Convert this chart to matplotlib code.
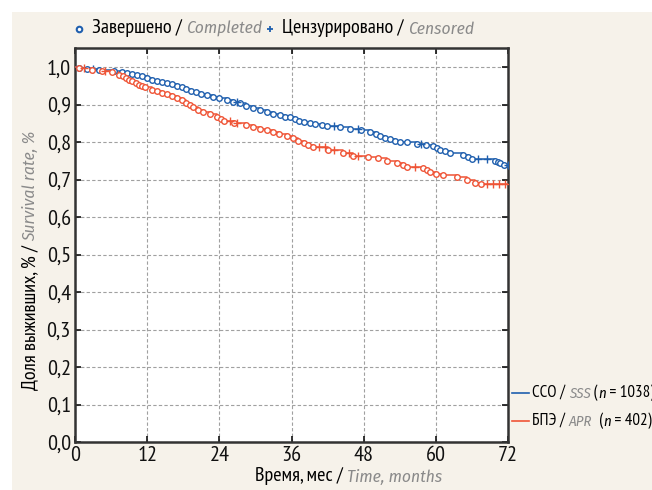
import numpy as np
import matplotlib
matplotlib.use('Agg')
import matplotlib.pyplot as plt
from matplotlib.patches import Rectangle
from matplotlib.lines import Line2D
from matplotlib import font_manager

installed = {f.name for f in font_manager.fontManager.ttflist}
upright = next(n for n in ['PT Sans Narrow', 'Fira Sans Condensed', 'DejaVu Sans'] if n in installed)
slanted = next(n for n in ['Fira Sans Condensed', 'DejaVu Sans'] if n in installed)
plt.rcParams['font.family'] = [upright, 'DejaVu Sans']

# Kaplan-Meier curves: event times (months) and survival after each event
sss_times = [0.6, 2.0, 4.0, 6.5, 7.8, 8.6, 9.5, 10.3, 11.1, 12.0, 12.8, 13.6, 14.5, 15.3,
             16.1, 17.0, 17.8, 18.5, 19.3, 20.2, 21.0, 22.0, 23.0, 24.0, 25.2, 26.3, 27.4,
             28.5, 29.6, 30.7, 31.9, 33.0, 34.1, 35.0, 35.7, 36.5, 37.3, 38.0, 39.0, 39.9,
             41.0, 41.9, 44.1, 45.7, 47.5, 49.0, 50.0, 50.7, 51.5, 52.4, 53.2, 54.0, 55.2,
             56.8, 58.3, 59.6, 60.2, 60.7, 61.5, 62.4, 64.6, 65.3, 66.0, 69.8, 70.3, 70.7, 71.3]
sss_surv = [0.997, 0.995, 0.993, 0.990, 0.987, 0.984, 0.981, 0.978, 0.975, 0.970, 0.966, 0.963,
            0.960, 0.957, 0.954, 0.950, 0.946, 0.941, 0.937, 0.933, 0.929, 0.925, 0.921, 0.917,
            0.912, 0.907, 0.903, 0.897, 0.891, 0.885, 0.879, 0.875, 0.872, 0.868, 0.866, 0.861,
            0.857, 0.853, 0.850, 0.848, 0.845, 0.843, 0.840, 0.836, 0.832, 0.827, 0.821, 0.816,
            0.811, 0.807, 0.804, 0.801, 0.799, 0.795, 0.792, 0.789, 0.784, 0.779, 0.775, 0.770,
            0.765, 0.760, 0.756, 0.750, 0.746, 0.743, 0.740]
sss_censored = [3.0, 27.0, 43.0, 47.0, 57.5, 67.0, 68.5, 72.0]

apr_times = [0.6, 2.8, 4.5, 6.2, 7.3, 7.9, 8.4, 9.0, 9.5, 10.1, 10.6, 11.2, 11.7, 12.8, 13.6,
             14.5, 15.3, 16.1, 17.0, 17.8, 18.5, 19.1, 19.7, 20.5, 21.3, 22.4, 23.6, 24.2, 24.7,
             26.5, 28.5, 29.6, 30.8, 32.0, 33.0, 34.0, 35.2, 36.3, 37.1, 38.0, 38.8, 39.6, 42.0,
             44.6, 46.3, 48.8, 50.4, 51.8, 53.5, 54.5, 55.2, 57.9, 58.5, 59.0, 60.0, 61.2, 63.5,
             65.1, 66.5, 67.5]
apr_surv = [0.997, 0.993, 0.989, 0.986, 0.980, 0.975, 0.971, 0.966, 0.962, 0.957, 0.953, 0.949,
            0.946, 0.940, 0.936, 0.932, 0.927, 0.922, 0.917, 0.913, 0.905, 0.899, 0.894, 0.886,
            0.879, 0.874, 0.868, 0.862, 0.856, 0.851, 0.845, 0.840, 0.836, 0.831, 0.826, 0.822,
            0.817, 0.810, 0.804, 0.798, 0.792, 0.786, 0.778, 0.770, 0.763, 0.759, 0.757, 0.750,
            0.743, 0.739, 0.734, 0.731, 0.726, 0.721, 0.716, 0.712, 0.707, 0.699, 0.692, 0.689]
apr_censored = [1.5, 5.0, 25.8, 27.0, 40.5, 41.5, 43.0, 45.5, 47.0, 56.5, 68.5, 69.5, 70.5, 71.5]

x_ticks = [0, 12, 24, 36, 48, 60, 72]
y_ticks = [0.0, 0.1, 0.2, 0.3, 0.4, 0.5, 0.6, 0.7, 0.8, 0.9, 1.0]
y_labels = ['0,0', '0,1', '0,2', '0,3', '0,4', '0,5', '0,6', '0,7', '0,8', '0,9', '1,0']

blue = '#1f5fae'
red = '#ef5436'
grey = '#8a8a8a'
bg = '#f6f2ea'

W, H = 652, 490
fig = plt.figure(figsize=(W / 100, H / 100), dpi=100, facecolor='white')
fig.patches.append(Rectangle((12 / W, 0), 1 - 12 / W, 1 - 12 / H, transform=fig.transFigure,
                             facecolor=bg, edgecolor='none', zorder=-10))

ax = fig.add_axes([75 / W, 1 - 442 / H, 433 / W, 394 / H])
ax.set_facecolor('white')


def draw_km(times, surv, censored, color):
    t = np.array([0.0] + times + [72.0])
    s = np.array([1.0] + surv + [surv[-1]])
    ax.step(t, s, where='post', color=color, lw=1.1, zorder=3)
    ax.plot(times, surv, 'o', ms=4, mfc='white', mec=color, mew=1.0, zorder=4)
    idx = np.searchsorted(t, censored, side='right') - 1
    ax.plot(censored, s[idx], '+', ms=6, color=color, mew=1.0, zorder=4)


draw_km(sss_times, sss_surv, sss_censored, blue)
draw_km(apr_times, apr_surv, apr_censored, red)

ax.set_xlim(0, 72)
ax.set_ylim(0, 1.0507)
ax.set_xticks(x_ticks)
ax.set_yticks(y_ticks)
ax.set_yticklabels(y_labels)
ax.grid(True, ls=(0, (3, 2)), color='#a0a0a0', lw=0.8)
ax.tick_params(direction='in', length=4, width=1.2, top=True, right=True,
               labelsize=16, pad=3, colors='#111111')
for sp in ax.spines.values():
    sp.set_color('#333333')
    sp.set_linewidth(1.8)

fs = 14.5
ifs = 12.5


def chain(first, parts, rotation=0):
    # place text pieces one after another, starting from a text artist
    prev = first
    for s, col, sty, size in parts:
        fam = [slanted, 'DejaVu Sans'] if sty == 'italic' else [upright, 'DejaVu Sans']
        if rotation:
            prev = ax.annotate(s, xy=(0.5, 1), xycoords=prev, va='bottom', ha='center',
                               rotation=90, fontsize=size, color=col, style=sty, family=fam)
        else:
            prev = ax.annotate(s, xy=(1, 0), xycoords=prev, va='bottom', ha='left',
                               fontsize=size, color=col, style=sty, family=fam)


# x label
xl1 = fig.text(255 / W, 1 - 476 / H, 'Время, мес / ', fontsize=fs, va='center', ha='left')
chain(xl1, [('Time, months', grey, 'italic', ifs)])

# y label
yl1 = fig.text(30 / W, 1 - 390 / H, 'Доля выживших, % / ', fontsize=fs, rotation=90,
               va='bottom', ha='center')
chain(yl1, [('Survival rate, %', grey, 'italic', ifs)], rotation=90)

# top legend
fig.add_artist(Line2D([79 / W], [1 - 29 / H], marker='o', ms=4, mfc='white', mec=blue, mew=1.5,
                      transform=fig.transFigure))
t1 = fig.text(92 / W, 1 - 28 / H, 'Завершено / ', fontsize=fs, va='center')
chain(t1, [('Completed', grey, 'italic', ifs)])
fig.add_artist(Line2D([270 / W], [1 - 29 / H], marker='+', ms=5, color=blue, mew=1.3,
                      transform=fig.transFigure))
t2 = fig.text(282 / W, 1 - 28 / H, 'Цензурировано / ', fontsize=fs, va='center')
chain(t2, [('Censored', grey, 'italic', ifs)])

# bottom-right legend
lfs = 12.2
for yy, col, a, b, c, d in [(393, blue, 'ССО / ', 'SSS', ' (', '\u2009=\u20091038)'),
                             (421, red, 'БПЭ / ', 'APR', '  (', '\u2009=\u2009402)')]:
    fig.add_artist(Line2D([512 / W, 529 / W], [1 - yy / H, 1 - yy / H],
                          color=col, lw=1.2, transform=fig.transFigure))
    l1 = fig.text(532 / W, 1 - yy / H, a, fontsize=lfs, va='center')
    chain(l1, [(b, grey, 'italic', lfs - 1.5), (c, 'black', 'normal', lfs),
               ('n', 'black', 'italic', lfs - 1.5), (d, 'black', 'normal', lfs)])

fig.savefig('out.png', dpi=100, facecolor=fig.get_facecolor())
